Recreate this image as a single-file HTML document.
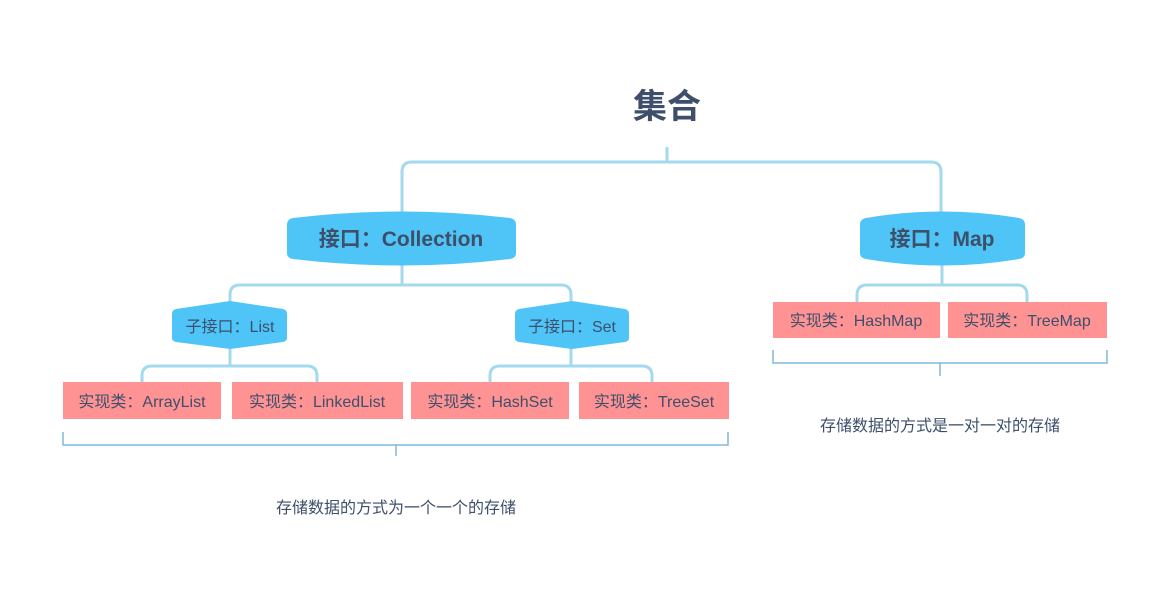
<!DOCTYPE html>
<html><head><meta charset="utf-8"><style>
html,body{margin:0;padding:0;background:#fff;}
svg{display:block;}
text{font-family:"Liberation Sans","Noto Sans CJK SC",sans-serif;fill:#3d4f6b;}
</style></head><body>
<svg width="1170" height="607" viewBox="0 0 1170 607">
<g fill="none" stroke="#a3daee" stroke-width="3">
<path d="M667 147 V162"/>
<path d="M402 212 V172 Q402 162 412 162 H931 Q941 162 941 172 V212"/>
<path d="M402 265 V285"/>
<path d="M230 302 V295 Q230 285 240 285 H561 Q571 285 571 295 V302"/>
<path d="M230 348 V366"/>
<path d="M142 382 V376 Q142 366 152 366 H307 Q317 366 317 376 V382"/>
<path d="M571 348 V366"/>
<path d="M490 382 V376 Q490 366 500 366 H642 Q652 366 652 376 V382"/>
<path d="M942 265 V285"/>
<path d="M857 302 V295 Q857 285 867 285 H1017 Q1027 285 1027 295 V302"/>
</g>
<g fill="none" stroke="#7fb8dc" stroke-width="1.5">
<path d="M63 432 V445 H728 V432 M396 445 V456"/>
<path d="M773 350 V363 H1107 V350 M940 363 V376"/>
</g>
<text x="667" y="118" text-anchor="middle" font-size="34" font-weight="bold">集合</text>
<path d="M293 218 Q401 205 510 218 Q516 219 516 225 V253 Q516 258 510 259 Q401 272 293 259 Q287 258 287 253 V225 Q287 219 293 218Z" fill="#4fc4f7"/>
<text x="401" y="246" text-anchor="middle" font-size="21" font-weight="bold">接口：Collection</text>
<path d="M866 218 Q942 205 1019 218 Q1025 219 1025 225 V253 Q1025 258 1019 259 Q942 272 866 259 Q860 258 860 253 V225 Q860 219 866 218Z" fill="#4fc4f7"/>
<text x="942" y="246" text-anchor="middle" font-size="21" font-weight="bold">接口：Map</text>
<path d="M176 309 L230 301 L283 309 Q287 310 287 314 V338 Q287 341 283 342 L230 349 L176 342 Q172 341 172 338 V314 Q172 310 176 309Z" fill="#4fc4f7"/>
<text x="230" y="332" text-anchor="middle" font-size="16">子接口：List</text>
<path d="M519 309 L572 301 L625 309 Q629 310 629 314 V338 Q629 341 625 342 L572 349 L519 342 Q515 341 515 338 V314 Q515 310 519 309Z" fill="#4fc4f7"/>
<text x="572" y="332" text-anchor="middle" font-size="16">子接口：Set</text>
<g fill="#ff9393">
<rect x="63" y="382" width="158" height="37"/>
<rect x="232" y="382" width="171" height="37"/>
<rect x="411" y="382" width="158" height="37"/>
<rect x="579" y="382" width="150" height="37"/>
<rect x="773" y="302" width="167" height="36"/>
<rect x="948" y="302" width="159" height="36"/>
</g>
<g font-size="16" text-anchor="middle">
<text x="142" y="407">实现类：ArrayList</text>
<text x="317" y="407">实现类：LinkedList</text>
<text x="490" y="407">实现类：HashSet</text>
<text x="654" y="407">实现类：TreeSet</text>
<text x="856" y="326">实现类：HashMap</text>
<text x="1027" y="326">实现类：TreeMap</text>
<text x="396" y="513">存储数据的方式为一个一个的存储</text>
<text x="940" y="431">存储数据的方式是一对一对的存储</text>
</g>
</svg>
</body></html>
